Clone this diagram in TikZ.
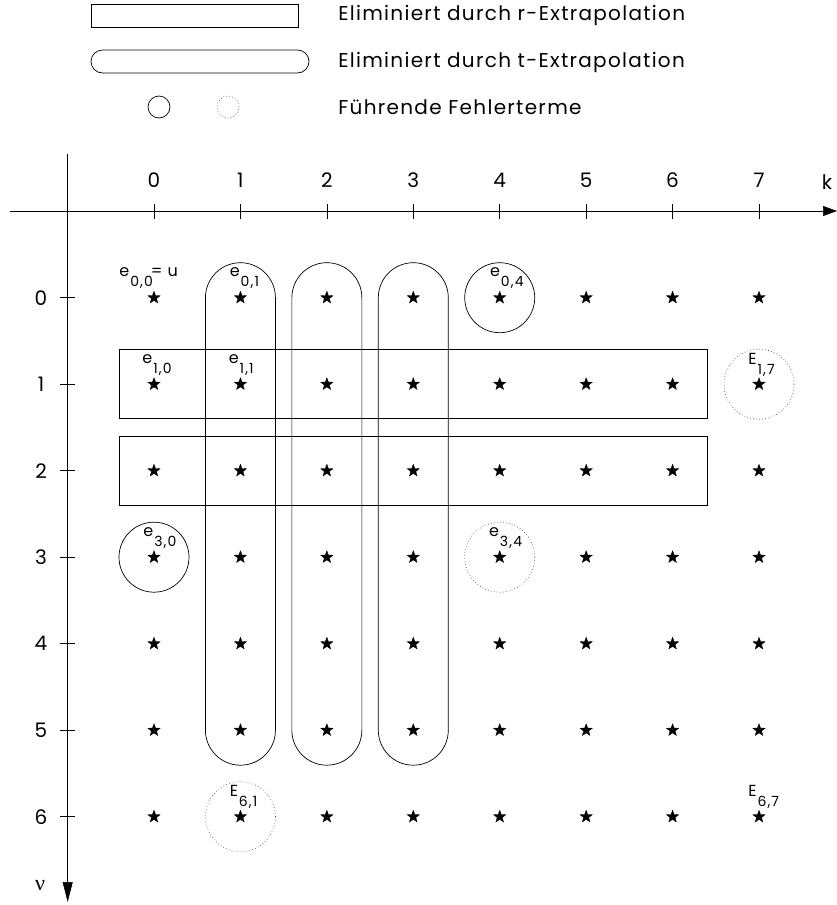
\documentclass[tikz,border=0pt]{standalone}
\usepackage{fontspec}
\setmainfont{Poppins}
\newfontfamily\serifnu{Liberation Serif}
\usetikzlibrary{arrows.meta,shapes.geometric,calc}
\newcommand\mylab[2]{{\fontsize{16}{16}\selectfont #1\kern1pt\raisebox{-10pt}{\fontsize{14}{14}\selectfont\addfontfeature{LetterSpace=8}#2}}}
\begin{document}
\begin{tikzpicture}[x=1pt,y=-1pt,
  every path/.style={line width=0.7pt},
  staritem/.style={star,star points=5,star point ratio=2.4,fill=black,draw=black,line width=0.3pt,inner sep=0pt,minimum size=13pt},
  dotcirc/.style={draw=black!65,line width=0.7pt,dash pattern=on 0.7pt off 2.3pt},
  legtext/.style={anchor=west,inner sep=0pt,font=\fontsize{20}{24}\selectfont\addfontfeature{LetterSpace=6.5}},
  axlab/.style={inner sep=0pt,font=\fontsize{20}{24}\selectfont},
  elab/.style={anchor=base west,inner sep=0pt}
]
\useasboundingbox (0,0) rectangle (837,905);
% legend
\node[draw,rectangle,minimum width=207pt,minimum height=23pt,inner sep=0pt] (legr) at (194.5,15.5) {};
\node[draw,rectangle,rounded corners=11.5pt,minimum width=218pt,minimum height=23pt,inner sep=0pt] (legt) at (200,61.5) {};
\node[draw,circle,minimum size=22pt,inner sep=0pt] (legc1) at (159,107) {};
\node[dotcirc,circle,minimum size=22pt,inner sep=0pt] (legc2) at (228,107) {};
\node[legtext] (legtr) at (338,15.5) {Eliminiert durch r-Extrapolation};
\node[legtext] (legtt) at (338,62) {Eliminiert durch t-Extrapolation};
\node[legtext] (legtc) at (338,107) {Führende Fehlerterme};
% axes
\coordinate (hx0) at (10,211);
\coordinate (hx1) at (837,211);
\coordinate (vy0) at (67.7,154);
\coordinate (vy1) at (67.7,902);
\draw[-{Triangle[length=14pt,width=10pt]}] (hx0) -- (hx1);
\draw[-{Triangle[length=20pt,width=10pt]}] (vy0) -- (vy1);
\node[axlab] (klab) at (827,182) {k};
\node[inner sep=0pt,font=\serifnu\fontsize{22}{24}\selectfont] (nulab) at (40,886) {ν};
% stars, ticks, labels
\foreach \c in {0,...,7}{
  \pgfmathsetmacro\xx{154+86.43*\c}
  \draw (\xx,204) -- (\xx,219);
  \node[axlab] (cl\c) at (\xx,180.5) {\c};
}
\foreach \r in {0,...,6}{
  \pgfmathsetmacro\yy{297.7+86.5*\r}
  \draw (60,\yy) -- (75,\yy);
  \node[axlab] (rl\r) at (41,\yy) {\r};
  \foreach \c in {0,...,7}{
    \pgfmathsetmacro\xx{154+86.43*\c}
    \node[staritem] (s\r\c) at (\xx,\yy) {};
  }
}
% r-extrapolation boxes
\draw ($(s10)+(-35,-34.5)$) rectangle ($(s16)+(35,34.5)$);
\draw ($(s20)+(-35,-34.5)$) rectangle ($(s26)+(35,34.5)$);
% t-extrapolation stadiums
\foreach \c in {1,2,3}{
  \draw[rounded corners=35pt] ($(s0\c)+(-35,-35)$) rectangle ($(s5\c)+(35,35)$);
}
% leading error terms
\draw (s04) circle[radius=35pt];
\draw (s30) circle[radius=35pt];
\draw[dotcirc] (s17) circle[radius=35pt];
\draw[dotcirc] (s34) circle[radius=35pt];
\draw[dotcirc] (s61) circle[radius=35pt];
% labels
\node[elab] (e00) at ($(s00)+(-35,-21)$) {\mylab{e}{0,0}{\fontsize{16}{16}\selectfont\kern-2pt= \kern1pt u}};
\node[elab] (e01) at ($(s01)+(-11,-21)$) {\mylab{e}{0,1}};
\node[elab] (e04) at ($(s04)+(-10,-21)$) {\mylab{e}{0,4}};
\node[elab] (e10) at ($(s10)+(-12,-21)$) {\mylab{e}{1,0}};
\node[elab] (e11) at ($(s11)+(-12,-21)$) {\mylab{e}{1,1}};
\node[elab] (e17) at ($(s17)+(-11,-20)$) {\mylab{E}{1,7}};
\node[elab] (e30) at ($(s30)+(-11,-21)$) {\mylab{e}{3,0}};
\node[elab] (e34) at ($(s34)+(-11,-21)$) {\mylab{e}{3,4}};
\node[elab] (e61) at ($(s61)+(-11,-20)$) {\mylab{E}{6,1}};
\node[elab] (e67) at ($(s67)+(-11,-20)$) {\mylab{E}{6,7}};
\end{tikzpicture}
\end{document}
